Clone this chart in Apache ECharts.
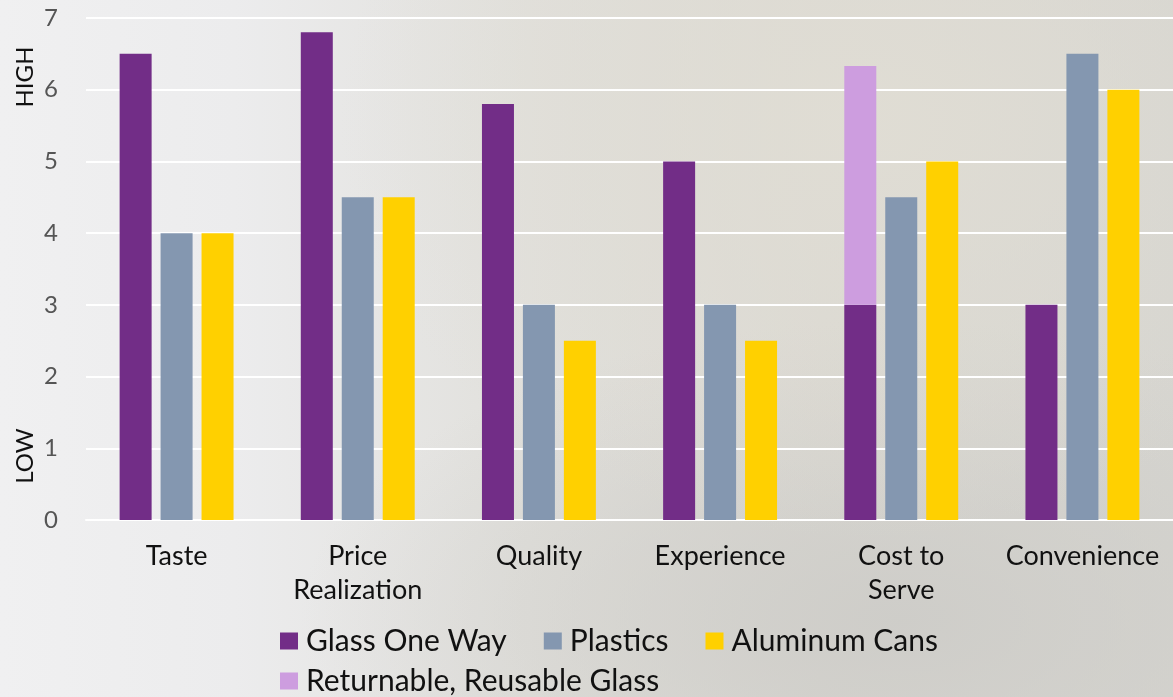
<!DOCTYPE html>
<html>
<head>
<meta charset="utf-8">
<script src="https://cdn.jsdelivr.net/npm/echarts@6/dist/echarts.min.js"></script>
<style>
  html, body { margin: 0; padding: 0; }
  #chart {
    width: 1173px; height: 697px;
    background:
      radial-gradient(ellipse 520px 420px at 860px 120px, rgba(224,221,212,0.95), rgba(224,221,212,0) 100%),
      radial-gradient(ellipse 600px 300px at 900px 620px, rgba(205,204,200,0.9), rgba(205,204,200,0) 100%),
      linear-gradient(90deg, #f0f0f1 0%, #ececed 20%, #e1e0dc 45%, #dad8d2 70%, #d6d5d0 100%);
  }
</style>
</head>
<body>
<div id="chart"></div>
<script>
const categories = ['Taste', 'Price\nRealization', 'Quality', 'Experience', 'Cost to\nServe', 'Convenience'];
const glassOneWay = [6.5, 6.8, 5.8, 5, 3, 3];
const plastics = [4, 4.5, 3, 3, 4.5, 6.5];
const aluminumCans = [4, 4.5, 2.5, 2.5, 5, 6];
const returnableGlass = ['-', '-', '-', '-', 3.33, '-'];
const yTicks = [0, 1, 2, 3, 4, 5, 6, 7];

const FONT = 'Lato, "Open Sans", sans-serif';
const chart = echarts.init(document.getElementById('chart'), null, { renderer: 'canvas' });

chart.setOption({
  backgroundColor: 'transparent',
  animation: false,
  grid: { left: 86, right: -6, top: 18, bottom: 177 },
  xAxis: {
    type: 'category',
    data: categories,
    axisLine: { show: true, lineStyle: { color: '#ffffff', width: 2 } },
    axisTick: { show: false },
    axisLabel: { color: '#111111', fontSize: 27, fontFamily: FONT, margin: 19, lineHeight: 34, interval: 0 }
  },
  yAxis: {
    type: 'value',
    min: yTicks[0],
    max: yTicks[yTicks.length - 1],
    interval: 1,
    axisLine: { show: false },
    axisTick: { show: false },
    splitLine: { lineStyle: { color: '#ffffff', width: 2 } },
    axisLabel: { color: '#555555', fontSize: 24, fontFamily: FONT, margin: 28 }
  },
  legend: [
    {
      data: ['Glass One Way', 'Plastics', 'Aluminum Cans'],
      left: 275, top: 621,
      icon: 'rect', itemWidth: 18, itemHeight: 17, itemGap: 37,
      textStyle: { color: '#111111', fontSize: 30, fontFamily: FONT, padding: [0, 0, 0, 3] }
    },
    {
      data: ['Returnable, Reusable Glass'],
      left: 275, top: 661,
      icon: 'rect', itemWidth: 18, itemHeight: 17,
      textStyle: { color: '#111111', fontSize: 30, fontFamily: FONT, padding: [0, 0, 0, 3] }
    }
  ],
  graphic: [
    {
      type: 'text', x: 25, y: 77, rotation: Math.PI / 2,
      style: { text: 'HIGH', fill: '#111111', font: '24px ' + FONT, align: 'center', verticalAlign: 'middle' }
    },
    {
      type: 'text', x: 25, y: 456, rotation: Math.PI / 2,
      style: { text: 'LOW', fill: '#111111', font: '24px ' + FONT, align: 'center', verticalAlign: 'middle' }
    }
  ],
  series: [
    {
      name: 'Glass One Way', type: 'bar', stack: 'glass', data: glassOneWay,
      itemStyle: { color: '#722d87' }, barWidth: 32, barGap: '28%', barCategoryGap: '37%'
    },
    {
      name: 'Plastics', type: 'bar', data: plastics,
      itemStyle: { color: '#8497b0' }, barWidth: 32
    },
    {
      name: 'Aluminum Cans', type: 'bar', data: aluminumCans,
      itemStyle: { color: '#ffd000' }, barWidth: 32
    },
    {
      name: 'Returnable, Reusable Glass', type: 'bar', stack: 'glass', data: returnableGlass,
      itemStyle: { color: '#cd9ddf' }, barWidth: 32
    }
  ]
});
</script>
</body>
</html>
